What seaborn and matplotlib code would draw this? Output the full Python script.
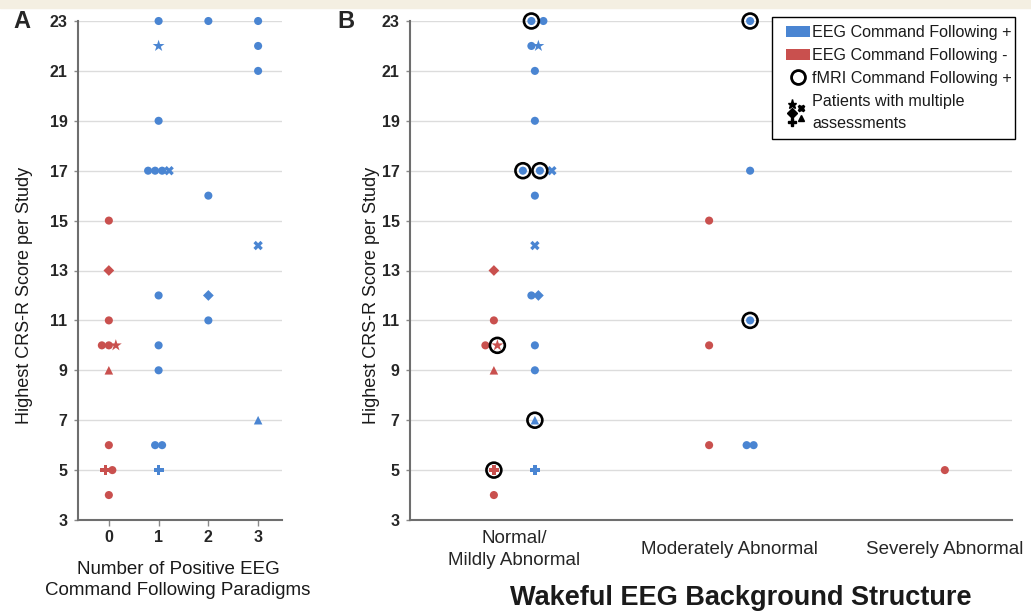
import numpy as np
import pandas as pd
import matplotlib
matplotlib.use("Agg")
import matplotlib.pyplot as plt
import seaborn as sns
from matplotlib.legend_handler import HandlerBase
from matplotlib.lines import Line2D
from matplotlib.patches import Patch, Rectangle

# ---------------- data (one entry per patient) ----------------
crs_score = [23, 23, 23, 22, 22, 21, 19, 17, 17, 17, 17, 16, 14, 12, 12, 11, 10, 9, 7, 6, 6, 5,
             15, 13, 11, 10, 10, 10, 9, 6, 5, 5, 4]
eeg_cf = ["+"] * 22 + ["-"] * 11
n_paradigms = [1, 2, 3, 3, 1, 3, 1, 1, 1, 1, 1, 2, 3, 1, 2, 2, 1, 1, 3, 1, 1, 1,
               0, 0, 0, 0, 0, 0, 0, 0, 0, 0, 0]
background = ["Normal", "Normal", "Moderate", "Normal", "Normal", "Normal", "Normal",
              "Normal", "Normal", "Moderate", "Normal", "Normal", "Normal", "Normal",
              "Normal", "Moderate", "Normal", "Normal", "Normal", "Moderate", "Moderate",
              "Normal",
              "Moderate", "Normal", "Normal", "Normal", "Moderate", "Normal", "Normal",
              "Moderate", "Normal", "Severe", "Normal"]
shape = ["circle", "circle", "circle", "circle", "star", "circle", "circle",
         "circle", "circle", "circle", "x", "circle", "x", "circle",
         "diamond", "circle", "circle", "circle", "triangle", "circle", "circle",
         "plus",
         "circle", "diamond", "circle", "circle", "circle", "star", "triangle",
         "circle", "plus", "circle", "circle"]
fmri_cf = [True, False, True, False, False, False, False,
           True, True, False, False, False, False, False,
           False, True, False, False, True, False, False,
           False,
           False, False, False, False, False, True, False,
           False, True, False, False]

paradigm_ticks = [0, 1, 2, 3]
background_levels = ["Normal", "Moderate", "Severe"]
background_labels = ["Normal/\nMildly Abnormal", "Moderately Abnormal", "Severely Abnormal"]
y_ticks = list(range(3, 24, 2))

df = pd.DataFrame({"crs": crs_score, "eeg": eeg_cf, "para": n_paradigms,
                   "bg": background, "shape": shape, "fmri": fmri_cf})

# ---------------- style ----------------
sns.set_style("white")
plt.rcParams["font.family"] = ["Liberation Sans", "DejaVu Sans"]

BLUE = "#4A85D2"
RED = "#C9504E"
palette = {"+": BLUE, "-": RED}
markers = {"circle": "o", "star": "*", "x": "X", "diamond": "D", "plus": "P", "triangle": "^"}
marker_sizes = {"circle": 34, "star": 80, "x": 46, "diamond": 30, "plus": 50, "triangle": 38}

W, H = 1031, 613
fig = plt.figure(figsize=(W / 100, H / 100), dpi=100)
fig.patches.append(Rectangle((0, 1 - 8 / H), 1, 8 / H, transform=fig.transFigure,
                             color="#F4EFE2", zorder=0))

axA = fig.add_axes([78 / W, 93 / H, 204 / W, 499 / H])
axB = fig.add_axes([410 / W, 93 / H, 602 / W, 499 / H])
axA.set_xlim(-0.62, 3.48)
axB.set_xlim(-0.485, 2.312)
for ax in (axA, axB):
    ax.set_ylim(3, 23)
    ax.set_yticks(y_ticks)
    ax.yaxis.grid(True, color="#DCDCDC", lw=1.0)
    ax.set_axisbelow(True)
    for s in ("top", "right"):
        ax.spines[s].set_visible(False)
    for s in ("left", "bottom"):
        ax.spines[s].set_color("#6E6E6E")
        ax.spines[s].set_linewidth(1.5)
    ax.tick_params(axis="y", length=3, width=1, color="#8A8A8A", pad=4.5,
                   labelsize=11.5, left=True)
    for lbl in ax.get_yticklabels():
        lbl.set_fontweight("bold")


def px_per_unit(ax):
    return ax.get_window_extent().width / (ax.get_xlim()[1] - ax.get_xlim()[0])


def spread(frame, keys, widths, ppu):
    """side-by-side placement of points sharing the same position"""
    off = pd.Series(0.0, index=frame.index)
    for _, idx in frame.groupby(keys, sort=False).groups.items():
        w = widths.loc[idx].to_numpy()
        centers = np.cumsum(w) - w / 2 - w.sum() / 2
        off.loc[idx] = centers / ppu
    return off


# Panel A positions
ppuA = px_per_unit(axA)
wA = pd.Series(7.0, index=df.index)
df["xa"] = df["para"] + spread(df, ["para", "crs"], wA, ppuA)

# Panel B positions (dodge by EEG result when both present in a category)
ppuB = px_per_unit(axB)
code = df["bg"].map({k: i for i, k in enumerate(background_levels)})
both = df.groupby("bg")["eeg"].transform("nunique") > 1
dodge = np.where(both, np.where(df["eeg"] == "-", -20.5, 20.5), 0.0) / ppuB
wB = pd.Series(np.where(df["fmri"], 17.0, 7.0), index=df.index)
df["xb"] = code + dodge + spread(df, ["bg", "eeg", "crs"], wB, ppuB)

# ---------------- draw ----------------
for ax, xcol in ((axA, "xa"), (axB, "xb")):
    sns.scatterplot(data=df, x=xcol, y="crs", hue="eeg", style="shape", size="shape",
                    palette=palette, markers=markers, sizes=marker_sizes, linewidth=0,
                    ax=ax, legend=False, clip_on=False)
sns.scatterplot(data=df[df["fmri"]], x="xb", y="crs", marker="o", s=115,
                facecolor="none", edgecolor="black", linewidth=1.9, ax=axB,
                legend=False, clip_on=False)

for ax in (axA, axB):
    ax.set_xlabel("")
    ax.set_ylabel("")

axA.set_xticks(paradigm_ticks)
axA.set_xticklabels([str(t) for t in paradigm_ticks], fontweight="bold")
axA.tick_params(axis="x", length=4, width=1, color="#8A8A8A", labelsize=11.5, bottom=True, pad=3)

axB.set_xticks(range(len(background_levels)))
axB.set_xticklabels(background_labels)
axB.tick_params(axis="x", length=0, labelsize=13.5, pad=21.5)
for lbl in axB.get_xticklabels():
    lbl.set_va("center")
    lbl.set_linespacing(1.38)

# axis titles and panel letters
fig.text(178 / W, 1 - 580 / H, "Number of Positive EEG\nCommand Following Paradigms",
         ha="center", va="center", fontsize=13.5, linespacing=1.3, color="#1a1a1a")
fig.text(741 / W, 1 - 598 / H, "Wakeful EEG Background Structure", ha="center", va="center",
         fontsize=19.5, fontweight="bold", color="#1a1a1a")
for xc in (25, 372):
    fig.text(xc / W, 1 - 295 / H, "Highest CRS-R Score per Study", rotation=90,
             ha="center", va="center", fontsize=13, color="#1a1a1a")
fig.text(22 / W, 1 - 22 / H, "A", ha="center", va="center", fontsize=17, fontweight="bold")
fig.text(346 / W, 1 - 22 / H, "B", ha="center", va="center", fontsize=17, fontweight="bold")


# ---------------- legend ----------------
class MultiMarkerHandler(HandlerBase):
    def create_artists(self, legend, orig_handle, xdescent, ydescent, width, height,
                       fontsize, trans):
        layout = [(0.22, 1.25, "*", 6.5), (0.62, 0.95, "X", 5), (0.22, 0.45, "D", 5),
                  (0.22, -0.35, "P", 6), (0.62, 0.0, "^", 5)]
        arts = []
        for fx, fy, m, ms in layout:
            arts.append(Line2D([fx * width - xdescent], [fy * height - ydescent],
                               marker=m, markersize=ms, color="black", linestyle="none",
                               transform=trans))
        return arts


class MultiToken:
    pass


# legend frame (opaque box), drawn just beneath the legend entries
axB.add_patch(Rectangle((772 / W, 1 - 139 / H), (1015 - 772) / W, (139 - 17) / H,
                        transform=fig.transFigure, facecolor="white", edgecolor="black",
                        linewidth=1.0, zorder=4.9, clip_on=False))

handles = [Patch(facecolor=BLUE, edgecolor="none"),
           Patch(facecolor=RED, edgecolor="none"),
           Line2D([], [], marker="o", linestyle="none", markerfacecolor="none",
                  markeredgecolor="black", markeredgewidth=2, markersize=10),
           MultiToken()]
labels = ["EEG Command Following +", "EEG Command Following -",
          "fMRI Command Following +", "Patients with multiple\nassessments"]
leg = axB.legend(handles, labels, handler_map={MultiToken: MultiMarkerHandler()},
                 loc="upper right", bbox_to_anchor=(1012 / W, 1 - 25 / H),
                 bbox_transform=fig.transFigure, borderaxespad=0, fontsize=11.6,
                 frameon=False, handlelength=1.45, handleheight=0.7, handletextpad=0.15,
                 labelspacing=0.5, borderpad=0)
for t in leg.get_texts():
    t.set_color("#1a1a1a")
    t.set_linespacing(1.55)

fig.savefig("out.png", dpi=100)
